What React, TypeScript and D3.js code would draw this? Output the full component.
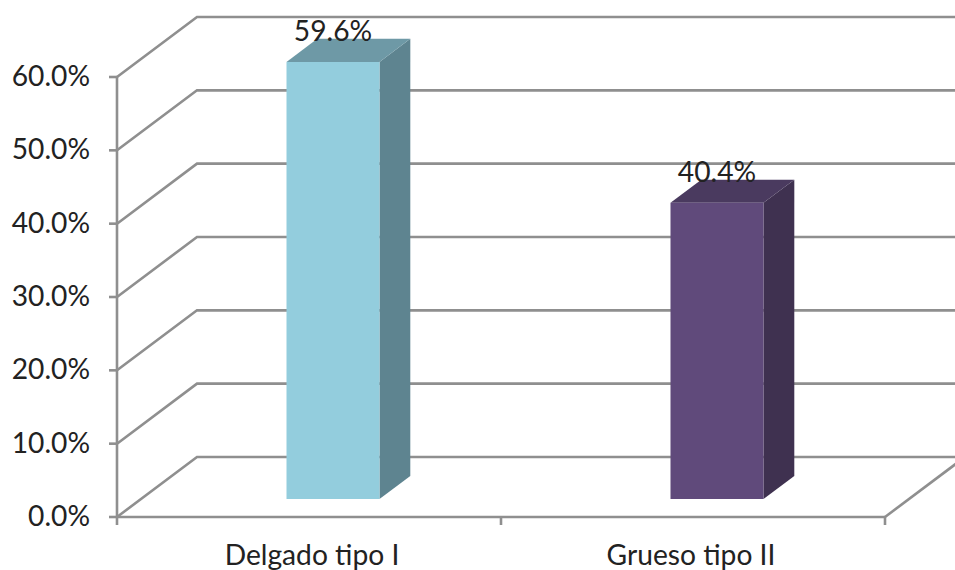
import React from "react";
import * as d3 from "d3";

const categories = ["Delgado tipo I", "Grueso tipo II"];
const seriesValues = [59.6, 40.4];
const tickValues = [0, 10, 20, 30, 40, 50, 60];
const frontColors = ["#93cddd", "#604a7b"];
const topColors = ["#6e99a6", "#4a3a5f"];
const sideColors = ["#5e8490", "#3f3150"];
const categoryNudge = [3, -2];

const WIDTH = 955;
const HEIGHT = 570;
const FONT = "Lato, 'Open Sans', sans-serif";
const GRID = "#8f8f8f";
const TEXT_SIZE = 28.2;

// Oblique projection: one unit of depth moves a point right and up.
const DEPTH_X = 80;
const DEPTH_Y = 60;
const BAR_NEAR = 0.3;
const BAR_FAR = 0.685;

const y = d3.scaleLinear().domain([0, 60]).range([517, 77]);
const x = d3.scaleBand<string>().domain(categories).range([117, 885]);
const BAR_WIDTH = 93;

const project = (px: number, value: number, depth: number): [number, number] => [
  px + depth * DEPTH_X,
  y(value) - depth * DEPTH_Y,
];

const polygon = (pts: [number, number][]) => (d3.line()(pts) ?? "") + "Z";

export default function App() {
  const x0 = x.range()[0];
  const x1 = x.range()[1];
  return (
    <svg
      width={WIDTH}
      height={HEIGHT}
      viewBox={`0 0 ${WIDTH} ${HEIGHT}`}
      style={{ position: "fixed", left: 0, top: 0, background: "#fff", fontFamily: FONT }}
    >
      {/* Back wall gridlines, side wall diagonals and value ticks */}
      <g stroke={GRID} strokeWidth={2.6} fill="none">
        {tickValues.map((t) => {
          const [bx, by] = project(x0, t, 1);
          return (
            <g key={t}>
              <path d={`M${x0},${y(t)}L${bx},${by}L${WIDTH},${by}`} />
              <path d={`M${x0 - 8},${y(t)}L${x0},${y(t)}`} />
            </g>
          );
        })}
        <path d={`M${x0},${y(60)}L${x0},${y(0) + 8}`} />
        <path d={`M${x0},${y(0)}L${x1},${y(0)}`} />
        {/* Right edge of the floor, running out of the frame */}
        <path d={(() => { const p = project(x1, 0, 1); return `M${x1},${y(0)}L${p[0]},${p[1]}`; })()} />
        {[x0 + x.step(), x1].map((px) => (
          <path key={px} d={`M${px},${y(0)}L${px},${y(0) + 8}`} />
        ))}
      </g>

      {/* Value axis labels */}
      <g fontSize={TEXT_SIZE} fill="#222" textAnchor="end">
        {tickValues.map((t) => (
          <text key={t} x={90} y={y(t) + 9}>
            {d3.format(".1f")(t)}%
          </text>
        ))}
      </g>

      {/* Bars with front, top and side faces */}
      {categories.map((c, i) => {
        const v = seriesValues[i];
        const center = x(c)! + x.bandwidth() / 2;
        const l = center - BAR_WIDTH / 2;
        const r = center + BAR_WIDTH / 2;
        const front = [
          project(l, 0, BAR_NEAR),
          project(r, 0, BAR_NEAR),
          project(r, v, BAR_NEAR),
          project(l, v, BAR_NEAR),
        ] as [number, number][];
        const top = [
          project(l, v, BAR_NEAR),
          project(r, v, BAR_NEAR),
          project(r, v, BAR_FAR),
          project(l, v, BAR_FAR),
        ] as [number, number][];
        const side = [
          project(r, 0, BAR_NEAR),
          project(r, 0, BAR_FAR),
          project(r, v, BAR_FAR),
          project(r, v, BAR_NEAR),
        ] as [number, number][];
        const labelPos = project(center, v, BAR_NEAR);
        return (
          <g key={c}>
            <path d={polygon(side)} fill={sideColors[i]} />
            <path d={polygon(top)} fill={topColors[i]} />
            <path d={polygon(front)} fill={frontColors[i]} />
            <text
              x={labelPos[0]}
              y={labelPos[1] - 21}
              fontSize={TEXT_SIZE}
              fill="#222"
              textAnchor="middle"
            >
              {v.toFixed(1)}%
            </text>
          </g>
        );
      })}

      {/* Category labels */}
      <g fontSize={TEXT_SIZE} fill="#222" textAnchor="middle">
        {categories.map((c, i) => (
          <text key={c} x={x(c)! + x.bandwidth() / 2 + categoryNudge[i]} y={564.5}>
            {c}
          </text>
        ))}
      </g>
    </svg>
  );
}
